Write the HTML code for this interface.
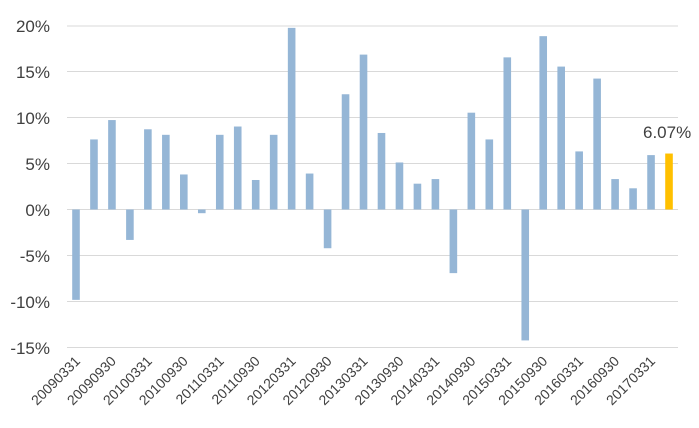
<!DOCTYPE html>
<html><head><meta charset="utf-8"><style>
html,body{margin:0;padding:0;background:#fff;}
svg text{font-family:"Liberation Sans",sans-serif;fill:#404040;}
</style></head><body>
<svg width="699" height="423" xmlns="http://www.w3.org/2000/svg">
<g stroke="#d9d9d9" stroke-width="1">
<line x1="67" x2="678" y1="26" y2="26"/><line x1="67" x2="678" y1="71.5" y2="71.5"/>
<line x1="67" x2="678" y1="117.5" y2="117.5"/><line x1="67" x2="678" y1="163.5" y2="163.5"/>
<line x1="67" x2="678" y1="209.5" y2="209.5"/><line x1="67" x2="678" y1="255.5" y2="255.5"/>
<line x1="67" x2="678" y1="301.5" y2="301.5"/><line x1="67" x2="678" y1="347.5" y2="347.5"/>
</g>
<g font-size="17" text-anchor="end">
<text x="50" y="32">20%</text><text x="50" y="78">15%</text><text x="50" y="124">10%</text>
<text x="50" y="170">5%</text><text x="50" y="216">0%</text><text x="50" y="262">-5%</text>
<text x="50" y="308">-10%</text><text x="50" y="354">-15%</text>
</g>
<g id="bars"></g>
<g id="labels" font-size="14" text-anchor="end"></g>
<text x="643" y="138" font-size="17" style="fill:#404040">6.07%</text>
<script>
var v=[-9.8,7.6,9.7,-3.3,8.7,8.1,3.8,-0.4,8.1,9.0,3.2,8.1,19.7,3.9,-4.2,12.5,16.8,8.3,5.1,2.8,3.3,-6.9,10.5,7.6,16.5,-14.2,18.8,15.5,6.3,14.2,3.3,2.3,5.9,6.07];
var labs=["20090331","20090930","20100331","20100930","20110331","20110930","20120331","20120930","20130331","20130930","20140331","20140930","20150331","20150930","20160331","20160930","20170331"];
var ns="http://www.w3.org/2000/svg",b=document.getElementById("bars"),l=document.getElementById("labels");
var k=9.22,z=209.5;
v.forEach(function(d,i){var cx=76+i*17.97;var r=document.createElementNS(ns,"rect");
var y=d>=0?z-d*k:z;r.setAttribute("x",cx-3.8);r.setAttribute("width",7.6);r.setAttribute("y",y);r.setAttribute("height",Math.abs(d)*k);
r.setAttribute("fill",i==33?"#ffc000":"#95b6d6");b.appendChild(r);
if(i%2==0){var t=document.createElementNS(ns,"text");t.textContent=labs[i/2];
t.setAttribute("transform","translate("+(cx+5)+",362) rotate(-45)");l.appendChild(t);}});
</script>
</svg>
</body></html>
